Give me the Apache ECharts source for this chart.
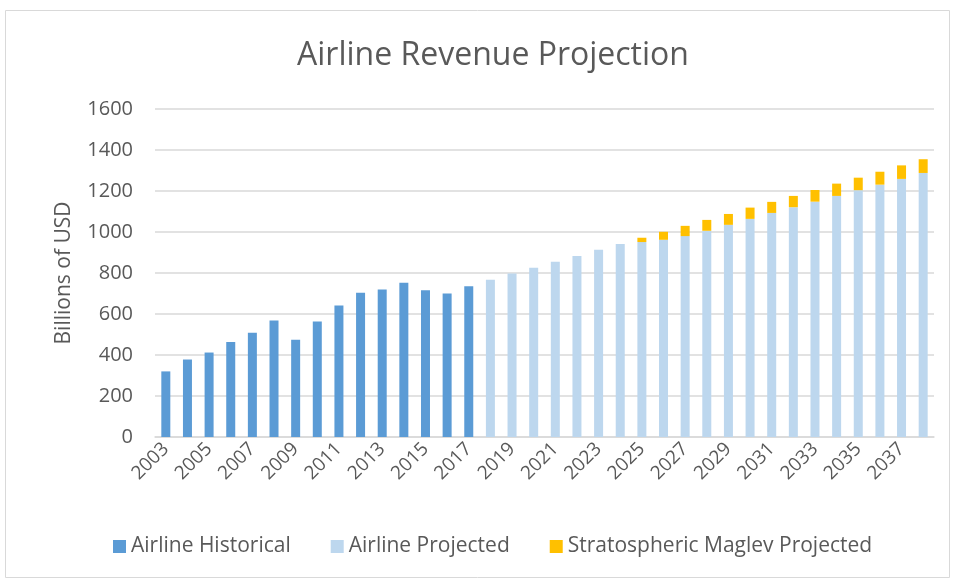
<!DOCTYPE html>
<html>
<head>
<meta charset="utf-8">
<script src="https://cdn.jsdelivr.net/npm/echarts@6/dist/echarts.min.js"></script>
<style>
  html, body { margin: 0; padding: 0; background: #fff; }
  #chart { width: 956px; height: 582px; }
</style>
</head>
<body>
<div id="chart"></div>
<script>
const years = [];
for (let y = 2003; y <= 2038; y++) years.push(String(y));

// values, billions of USD
const historical = [320, 378, 412, 464, 509, 568, 475, 563, 641, 704, 720, 752, 716, 700, 735];
const projected = [767, 797, 826, 855, 883, 913, 941, 951, 962, 980, 1006, 1035, 1064, 1093, 1121, 1148, 1176, 1204, 1231, 1259, 1288];
const maglev = [21, 39, 50, 53, 53, 55, 54, 55, 57, 60, 61, 63, 66, 67];

const nHist = historical.length;
const histData = years.map((_, i) => (i < nHist ? historical[i] : null));
const projData = years.map((_, i) => (i >= nHist ? projected[i - nHist] : null));
const maglevStart = years.length - maglev.length;
const maglevData = years.map((_, i) => (i >= maglevStart ? maglev[i - maglevStart] : null));

const FONT = "'Open Sans', 'Noto Sans', sans-serif";
const chart = echarts.init(document.getElementById('chart'));

chart.setOption({
  animation: false,
  textStyle: { fontFamily: FONT },
  title: {
    text: 'Airline Revenue Projection',
    left: 292,
    top: 35,
    textStyle: { fontSize: 32, fontWeight: 'normal', color: '#595959', fontFamily: FONT }
  },
  graphic: [{
    type: 'rect',
    shape: { x: 5.5, y: 10.5, width: 944, height: 567 },
    style: { fill: 'none', stroke: '#d9d9d9', lineWidth: 1 },
    silent: true
  }],
  legend: {
    bottom: 20,
    left: 108,
    itemGap: 40,
    itemWidth: 13,
    itemHeight: 13,
    icon: 'rect',
    textStyle: { fontSize: 21, color: '#595959', fontFamily: FONT },
    data: ['Airline Historical', 'Airline Projected', 'Stratospheric Maglev Projected']
  },
  grid: { left: 155, right: 22, top: 109, bottom: 145 },
  xAxis: {
    type: 'category',
    data: years,
    axisLine: { lineStyle: { color: '#d9d9d9', width: 1.5 } },
    axisTick: { show: false },
    axisLabel: {
      interval: 1,
      rotate: 45,
      fontSize: 19,
      color: '#595959',
      margin: 9
    }
  },
  yAxis: {
    type: 'value',
    min: 0,
    max: 1600,
    interval: 200,
    name: 'Billions of USD',
    nameLocation: 'middle',
    nameRotate: 90,
    nameGap: 80,
    nameTextStyle: { fontSize: 21, color: '#595959' },
    axisLine: { show: false },
    axisTick: { show: false },
    axisLabel: { fontSize: 20, color: '#595959', margin: 22, formatter: v => String(v) },
    splitLine: { lineStyle: { color: '#d9d9d9', width: 1.5 } }
  },
  series: [
    {
      name: 'Airline Historical',
      type: 'bar',
      stack: 'total',
      barWidth: 9,
      itemStyle: { color: '#5b9bd5' },
      data: histData
    },
    {
      name: 'Airline Projected',
      type: 'bar',
      stack: 'total',
      barWidth: 9,
      itemStyle: { color: '#bdd7ee' },
      data: projData
    },
    {
      name: 'Stratospheric Maglev Projected',
      type: 'bar',
      stack: 'total',
      barWidth: 9,
      itemStyle: { color: '#ffc000' },
      data: maglevData
    }
  ]
});
</script>
</body>
</html>
